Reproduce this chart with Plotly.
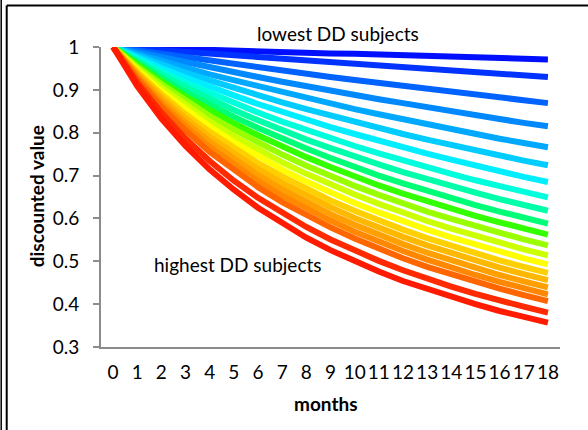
import plotly.graph_objects as go

months = list(range(19))
month_labels = [str(m) for m in months]

# discounted value per subject group (lowest DD -> highest DD)
s01 = [1, 0.998, 0.997, 0.995, 0.993, 0.992, 0.990, 0.989, 0.987, 0.985, 0.984, 0.982, 0.980, 0.979, 0.977, 0.976, 0.974, 0.973, 0.971]
s02 = [1, 0.996, 0.992, 0.988, 0.984, 0.980, 0.976, 0.972, 0.968, 0.964, 0.960, 0.956, 0.952, 0.948, 0.945, 0.941, 0.937, 0.934, 0.930]
s03 = [1, 0.992, 0.984, 0.975, 0.968, 0.960, 0.952, 0.945, 0.937, 0.930, 0.923, 0.916, 0.909, 0.902, 0.895, 0.888, 0.882, 0.875, 0.869]
s04 = [1, 0.988, 0.975, 0.964, 0.952, 0.941, 0.930, 0.919, 0.908, 0.898, 0.888, 0.878, 0.869, 0.859, 0.850, 0.841, 0.832, 0.823, 0.815]
s05 = [1, 0.983, 0.967, 0.952, 0.936, 0.922, 0.908, 0.894, 0.880, 0.868, 0.855, 0.843, 0.831, 0.819, 0.808, 0.797, 0.786, 0.776, 0.766]
s06 = [1, 0.979, 0.959, 0.940, 0.922, 0.904, 0.887, 0.871, 0.855, 0.840, 0.825, 0.811, 0.797, 0.784, 0.771, 0.759, 0.747, 0.735, 0.724]
s07 = [1, 0.975, 0.951, 0.929, 0.907, 0.887, 0.867, 0.848, 0.830, 0.813, 0.797, 0.781, 0.765, 0.751, 0.737, 0.723, 0.710, 0.697, 0.685]
s08 = [1, 0.971, 0.943, 0.917, 0.893, 0.869, 0.847, 0.826, 0.806, 0.787, 0.769, 0.752, 0.735, 0.719, 0.704, 0.689, 0.675, 0.662, 0.649]
s09 = [1, 0.967, 0.936, 0.907, 0.879, 0.853, 0.829, 0.806, 0.784, 0.764, 0.744, 0.726, 0.708, 0.691, 0.675, 0.660, 0.645, 0.631, 0.618]
s10 = [1, 0.963, 0.928, 0.895, 0.865, 0.837, 0.811, 0.786, 0.763, 0.741, 0.720, 0.700, 0.682, 0.664, 0.647, 0.631, 0.616, 0.602, 0.588]
s11 = [1, 0.958, 0.920, 0.885, 0.852, 0.822, 0.794, 0.767, 0.743, 0.720, 0.698, 0.677, 0.658, 0.640, 0.623, 0.606, 0.591, 0.576, 0.562]
s12 = [1, 0.954, 0.913, 0.874, 0.839, 0.807, 0.777, 0.749, 0.723, 0.699, 0.676, 0.655, 0.635, 0.616, 0.599, 0.582, 0.566, 0.551, 0.537]
s13 = [1, 0.950, 0.905, 0.864, 0.826, 0.792, 0.760, 0.731, 0.704, 0.679, 0.656, 0.634, 0.613, 0.594, 0.576, 0.559, 0.543, 0.528, 0.514]
s14 = [1, 0.946, 0.897, 0.854, 0.814, 0.778, 0.745, 0.714, 0.686, 0.660, 0.636, 0.614, 0.593, 0.574, 0.556, 0.539, 0.522, 0.507, 0.493]
s15 = [1, 0.942, 0.890, 0.843, 0.802, 0.764, 0.729, 0.698, 0.669, 0.642, 0.618, 0.595, 0.574, 0.554, 0.536, 0.519, 0.502, 0.487, 0.473]
s16 = [1, 0.938, 0.883, 0.834, 0.790, 0.751, 0.715, 0.683, 0.654, 0.626, 0.601, 0.578, 0.557, 0.537, 0.519, 0.501, 0.485, 0.470, 0.456]
s17 = [1, 0.934, 0.876, 0.824, 0.779, 0.738, 0.701, 0.668, 0.638, 0.610, 0.585, 0.562, 0.540, 0.520, 0.502, 0.484, 0.468, 0.453, 0.439]
s18 = [1, 0.930, 0.868, 0.815, 0.767, 0.725, 0.687, 0.653, 0.623, 0.595, 0.569, 0.545, 0.524, 0.504, 0.485, 0.468, 0.452, 0.437, 0.423]
s19 = [1, 0.925, 0.861, 0.805, 0.755, 0.712, 0.673, 0.638, 0.607, 0.579, 0.553, 0.529, 0.507, 0.487, 0.469, 0.452, 0.436, 0.421, 0.407]
s20 = [1, 0.917, 0.847, 0.786, 0.734, 0.688, 0.648, 0.612, 0.580, 0.551, 0.525, 0.501, 0.479, 0.459, 0.441, 0.424, 0.408, 0.394, 0.380]
s21 = [1, 0.909, 0.833, 0.769, 0.714, 0.667, 0.625, 0.588, 0.555, 0.526, 0.500, 0.476, 0.454, 0.435, 0.417, 0.400, 0.384, 0.370, 0.357]

series = [s01, s02, s03, s04, s05, s06, s07, s08, s09, s10, s11,
          s12, s13, s14, s15, s16, s17, s18, s19, s20, s21]
colors = ["#0010FF", "#0033FF", "#0062FF", "#0088FF", "#00A8FF", "#00CCFF",
          "#00EEFF", "#00FFDD", "#00FFAA", "#00FF77", "#33FF00", "#99FF00",
          "#CCFF00", "#FFFF00", "#FFD000", "#FFB800", "#FFA000", "#FF8800",
          "#FF6600", "#FF2A00", "#FF1A00"]

y_ticks = [0.3, 0.4, 0.5, 0.6, 0.7, 0.8, 0.9, 1.0]
y_tick_text = ["0.3", "0.4", "0.5", "0.6", "0.7", "0.8", "0.9", "1"]

FONT = "Lato"
FS = 19

fig = go.Figure()
for vals, col in zip(series, colors):
    fig.add_trace(go.Scatter(x=months, y=vals, mode="lines",
                             line=dict(color=col, width=6),
                             showlegend=False, hoverinfo="skip"))

axis_col = "#8C8C8C"
fig.update_layout(
    width=588, height=430,
    margin=dict(l=101, r=28, t=47, b=83, autoexpand=False),
    paper_bgcolor="white", plot_bgcolor="white",
    font=dict(family=FONT, size=FS, color="black"),
    xaxis=dict(range=[-0.5, 18.5], tickmode="array", tickvals=months,
               ticktext=month_labels, showgrid=False, zeroline=False,
               showline=True, linecolor=axis_col, linewidth=2,
               ticks="", ticklabelstandoff=7,
               tickfont=dict(family=FONT, size=FS, color="black")),
    yaxis=dict(range=[0.3, 1.0], tickmode="array", tickvals=y_ticks,
               ticktext=y_tick_text, showgrid=False, zeroline=False,
               showline=True, linecolor=axis_col, linewidth=2,
               ticks="outside", ticklen=6, tickwidth=2, tickcolor=axis_col,
               ticklabelstandoff=10,
               tickfont=dict(family=FONT, size=FS, color="black")),
)

def px_x(px):
    return (px - 101) / 459.0

def px_y(py):
    return (346.7 - py) / 300.0

fig.add_annotation(text="lowest DD subjects", x=px_x(338), y=px_y(33),
                   xref="paper", yref="paper", xanchor="center", yanchor="middle",
                   showarrow=False, font=dict(family=FONT, size=FS, color="black"))
fig.add_annotation(text="highest DD subjects", x=px_x(238), y=px_y(264),
                   xref="paper", yref="paper", xanchor="center", yanchor="middle",
                   showarrow=False, font=dict(family=FONT, size=FS, color="black"))
fig.add_annotation(text="<b>months</b>", x=px_x(326), y=px_y(403.5),
                   xref="paper", yref="paper", xanchor="center", yanchor="middle",
                   showarrow=False, font=dict(family=FONT, size=FS, color="black"))
fig.add_annotation(text="<b>discounted value</b>", x=px_x(36), y=px_y(196),
                   xref="paper", yref="paper", xanchor="center", yanchor="middle",
                   textangle=-90, showarrow=False,
                   font=dict(family=FONT, size=FS, color="black"))

# outer frame
fig.add_shape(type="line", xref="paper", yref="paper", x0=px_x(6.7), x1=px_x(600),
              y0=px_y(5.3), y1=px_y(5.3), line=dict(color="black", width=2))
fig.add_shape(type="line", xref="paper", yref="paper", x0=px_x(6.7), x1=px_x(6.7),
              y0=px_y(5.3), y1=px_y(440), line=dict(color="black", width=2))
fig.add_shape(type="line", xref="paper", yref="paper", x0=px_x(1.2), x1=px_x(1.2),
              y0=px_y(-5), y1=px_y(440), line=dict(color="black", width=1.5))

fig.write_html("out.html", config={"displayModeBar": False},
               post_script="document.body.style.margin='0';")
